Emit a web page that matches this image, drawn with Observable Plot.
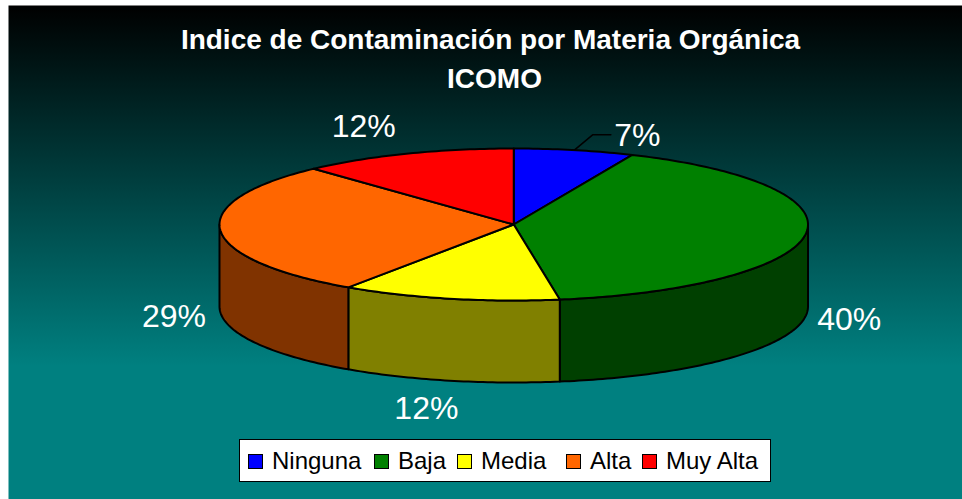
<!DOCTYPE html>
<html><head><meta charset="utf-8">
<script src="https://cdn.jsdelivr.net/npm/d3@7"></script>
<script src="https://cdn.jsdelivr.net/npm/@observablehq/plot@0.6"></script>
<style>
html,body{margin:0;padding:0;background:#fff;overflow:hidden}
#wrap{position:relative;width:962px;height:499px;font-family:"Liberation Sans",Arial,sans-serif}
#legend{position:absolute;left:239px;top:439px;width:530px;height:41px;box-sizing:content-box;background:#fff;border:1.5px solid #000;display:flex;align-items:center;font-size:24px;color:#000;padding:0}
#legend .it{display:flex;align-items:center;position:absolute;top:7px;line-height:28px}
#legend .sw{width:13px;height:13px;border:1.5px solid #000;margin-right:9px;display:inline-block}
</style></head><body><div id="wrap"></div>
<script>
const titleLines = ["Indice de Contaminación por Materia Orgánica", "ICOMO"];
const categories = ["Ninguna", "Baja", "Media", "Alta", "Muy Alta"];
const shares = [6.6, 40.9, 12.0, 28.6, 11.9];
const percentLabels = ["7%", "40%", "12%", "29%", "12%"];
const topColors = ["#0000ff", "#008000", "#ffff00", "#ff6600", "#ff0000"];
const sideColors = ["#000080", "#004000", "#808000", "#803300", "#800000"];

// layout (pie units: rim radius = 1)
const depth = 82 / 76;
const labelAt = [[0.42, 1.17], [1.14, -1.25], [-0.297, -2.43], [-1.155, -1.21], [-0.51, 1.285]];
const legendLeft = [8, 134, 217, 326, 402];

const total = d3.sum(shares);
let acc = 0;
const slices = shares.map((v, i) => {
  const a0 = acc / total * 2 * Math.PI; acc += v;
  return {i, name: categories[i], a0, a1: acc / total * 2 * Math.PI};
});
const rim = (a, z = 0) => ({x: Math.sin(a), y: Math.cos(a) - z});
const arc = (a0, a1, z = 0) => {
  const n = Math.max(2, Math.ceil((a1 - a0) * 60));
  return d3.range(n + 1).map(k => rim(a0 + (a1 - a0) * k / n, z));
};

// side walls: only the part of each slice on the near half of the rim
const walls = [];
for (const s of slices) {
  const a0 = Math.max(s.a0, Math.PI / 2), a1 = Math.min(s.a1, 3 * Math.PI / 2);
  if (a1 <= a0) continue;
  const pts = [...arc(a0, a1), ...arc(a0, a1, depth).reverse()];
  pts.push(pts[0]);
  for (const p of pts) walls.push({...p, i: s.i, fill: sideColors[s.i]});
}
const tops = [];
for (const s of slices) {
  const pts = [{x: 0, y: 0}, ...arc(s.a0, s.a1), {x: 0, y: 0}];
  for (const p of pts) tops.push({...p, i: s.i, fill: topColors[s.i]});
}
const labels = percentLabels.map((t, i) => ({t, x: labelAt[i][0], y: labelAt[i][1]}));
const mid0 = (slices[0].a0 + slices[0].a1) / 2;
const leader = [rim(mid0), {x: 0.268, y: 1.18}, {x: 0.33, y: 1.18}];

const defs = () => {
  const ns = "http://www.w3.org/2000/svg";
  const svg = document.createElementNS(ns, "defs");
  svg.innerHTML = `<linearGradient id="bg" x1="0" y1="0" x2="0" y2="1">
    <stop offset="0" stop-color="#000"/><stop offset="0.73" stop-color="#008080"/><stop offset="1" stop-color="#008080"/></linearGradient>`;
  return svg;
};

const chart = Plot.plot({
  width: 962, height: 499,
  marginLeft: 8, marginTop: 5, marginRight: 0, marginBottom: 0,
  style: {background: "transparent", fontFamily: '"Liberation Sans",Arial,sans-serif'},
  x: {domain: [-1, 1], range: [219, 807.5], axis: null},
  y: {domain: [1, -1], range: [148, 300], axis: null},
  marks: [
    defs,
    Plot.frame({fill: "url(#bg)", stroke: "none"}),
    Plot.line(walls, {x: "x", y: "y", z: "i", fill: "fill", stroke: "#000", strokeWidth: 2, curve: "linear"}),
    Plot.line(tops, {x: "x", y: "y", z: "i", fill: "fill", stroke: "#000", strokeWidth: 2, curve: "linear"}),
    Plot.line(leader, {x: "x", y: "y", stroke: "#000", strokeWidth: 1.5}),
    Plot.text(labels, {x: "x", y: "y", text: "t", fill: "#fff", fontSize: 32, lineAnchor: "middle"}),
    Plot.text(titleLines.slice(0, 1), {text: d => d, frameAnchor: "top", dx: 5, dy: 35, fill: "#fff", fontSize: 28, fontWeight: "bold", lineAnchor: "middle"}),
    Plot.text(titleLines.slice(1), {text: d => d, frameAnchor: "top", dx: 9, dy: 74, fill: "#fff", fontSize: 28, fontWeight: "bold", lineAnchor: "middle"})
  ]
});
const wrap = document.getElementById("wrap");
wrap.appendChild(chart);
const lg = document.createElement("div"); lg.id = "legend";
categories.forEach((c, i) => {
  const it = document.createElement("div"); it.className = "it"; it.style.left = legendLeft[i] + "px";
  const sw = document.createElement("span"); sw.className = "sw"; sw.style.background = topColors[i];
  const tx = document.createElement("span"); tx.textContent = c;
  it.append(sw, tx); lg.appendChild(it);
});
wrap.appendChild(lg);
</script></body></html>
